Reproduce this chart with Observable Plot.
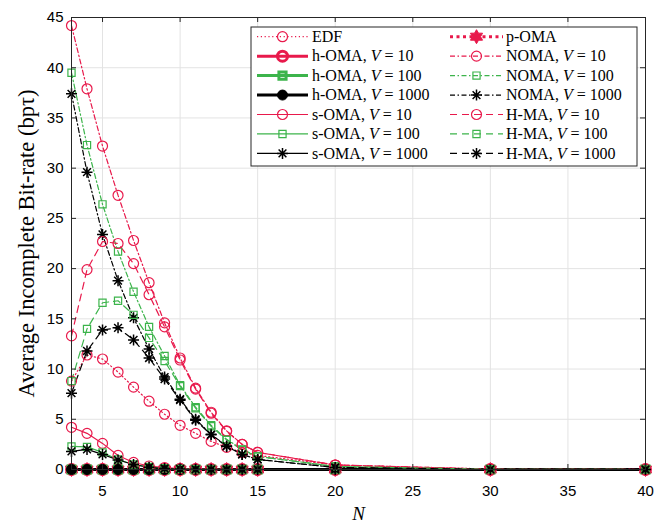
<!DOCTYPE html>
<html><head><meta charset="utf-8">
<script src="https://cdn.jsdelivr.net/npm/d3@7"></script>
<script src="https://cdn.jsdelivr.net/npm/@observablehq/plot@0.6"></script>
<style>body{margin:0;background:#fff;} #chart{width:654px;height:523px;overflow:hidden;}</style>
</head><body><div id="chart"></div>
<script>
// ---------- data ----------
const N = [3,4,5,6,7,8,9,10,11,12,13,14,15,20,30,40];
const edf      = [8.8,11.4,11.0,9.7,8.2,6.8,5.5,4.4,3.6,2.8,2.2,1.7,1.4,0.45,0.05,0];
const pOMA     = [0,0,0,0,0,0,0,0,0,0,0,0,0,0,0,0];
const hOMA10   = [0,0,0,0,0,0,0,0,0,0,0,0,0,0,0,0];
const hOMA100  = [0,0,0,0,0,0,0,0,0,0,0,0,0,0,0,0];
const hOMA1000 = [0,0,0,0,0,0,0,0,0,0,0,0,0,0,0,0];
const sOMA10   = [4.2,3.6,2.6,1.4,0.7,0.35,0.2,0.1,0.05,0.02,0.01,0,0,0,0,0];
const sOMA100  = [2.3,2.25,1.7,1.0,0.5,0.25,0.12,0.06,0.03,0.01,0,0,0,0,0,0];
const sOMA1000 = [1.8,2.0,1.5,0.95,0.5,0.22,0.1,0.05,0.02,0.01,0,0,0,0,0,0];
const noma10   = [44.2,37.9,32.2,27.3,22.8,18.6,14.6,11.1,8.1,5.7,3.85,2.5,1.7,0.45,0.03,0];
const noma100  = [39.5,32.3,26.4,21.7,17.7,14.2,11.3,8.4,6.2,4.4,3.0,2.0,1.3,0.3,0.02,0];
const noma1000 = [37.4,29.6,23.4,18.8,15.1,12.0,9.2,7.0,5.0,3.5,2.35,1.5,1.0,0.2,0.01,0];
const hma10    = [13.3,19.9,22.7,22.5,20.5,17.4,14.2,10.9,8.0,5.6,3.8,2.5,1.7,0.45,0.03,0];
const hma100   = [8.8,14.0,16.6,16.8,15.4,13.1,10.8,8.3,6.1,4.3,2.95,1.95,1.3,0.3,0.02,0];
const hma1000  = [7.6,11.8,13.9,14.1,12.9,11.1,9.0,6.9,4.9,3.45,2.3,1.5,1.0,0.2,0.01,0];
const xTicks = [5,10,15,20,25,30,35,40];
const yTicks = [0,5,10,15,20,25,30,35,40,45];
const xLabel = "N";
const yLabel = "Average Incomplete Bit-rate (bpτ)";

// ---------- styles ----------
const red = "#E8194B", green = "#3CB44B", black = "#000000";
const DOT = "1.2 2.6", DASHDOT = "5 2.5 1.5 2.5", DASH = "7 5", PDOT = "3 3.5";
const circleSym = {draw(c, s){ const r = Math.sqrt(s/Math.PI); c.moveTo(r,0); c.arc(0,0,r,0,2*Math.PI); }};
const squareSym = {draw(c, s){ const r = Math.sqrt(s/Math.PI)*0.78; c.rect(-r,-r,2*r,2*r); }};
const starSym = {draw(c, s){ const r = Math.sqrt(s/Math.PI);
  for (let i=0;i<4;i++){ const a=i*Math.PI/4; c.moveTo(r*Math.cos(a), r*Math.sin(a)); c.lineTo(-r*Math.cos(a), -r*Math.sin(a)); } }};
const hexSym = {draw(c, s){ const r = Math.sqrt(s/Math.PI), ri = r*0.58;
  for (let i=0;i<12;i++){ const a=-Math.PI/2+i*Math.PI/6, rr = i%2 ? ri : r; i ? c.lineTo(rr*Math.cos(a), rr*Math.sin(a)) : c.moveTo(rr*Math.cos(a), rr*Math.sin(a)); } c.closePath(); }};

const series = [
  {name:"EDF",   v:null, y:edf,      color:red,   lw:1.2, dash:DOT,     sym:circleSym, fill:"none", r:5,   mw:1.2},
  {name:"p-OMA", v:null, y:pOMA,     color:red,   lw:3,   dash:PDOT,    sym:hexSym,    fill:red,    r:7,   mw:1},
  {name:"h-OMA", v:10,   y:hOMA10,   color:red,   lw:3,   dash:null,    sym:circleSym, fill:"none", r:5,   mw:3},
  {name:"h-OMA", v:100,  y:hOMA100,  color:green, lw:3,   dash:null,    sym:squareSym, fill:"none", r:4.6, mw:3},
  {name:"h-OMA", v:1000, y:hOMA1000, color:black, lw:3,   dash:null,    sym:circleSym, fill:black,  r:5,   mw:1},
  {name:"s-OMA", v:10,   y:sOMA10,   color:red,   lw:1.2, dash:null,    sym:circleSym, fill:"none", r:5,   mw:1.2},
  {name:"s-OMA", v:100,  y:sOMA100,  color:green, lw:1.2, dash:null,    sym:squareSym, fill:"none", r:4.6, mw:1.2},
  {name:"s-OMA", v:1000, y:sOMA1000, color:black, lw:1.2, dash:null,    sym:starSym,   fill:"none", r:5.5, mw:1.5},
  {name:"NOMA",  v:10,   y:noma10,   color:red,   lw:1.2, dash:DASHDOT, sym:circleSym, fill:"none", r:5,   mw:1.2},
  {name:"NOMA",  v:100,  y:noma100,  color:green, lw:1.2, dash:DASHDOT, sym:squareSym, fill:"none", r:4.6, mw:1.2},
  {name:"NOMA",  v:1000, y:noma1000, color:black, lw:1.2, dash:DASHDOT, sym:starSym,   fill:"none", r:5.5, mw:1.5},
  {name:"H-MA",  v:10,   y:hma10,    color:red,   lw:1.2, dash:DASH,    sym:circleSym, fill:"none", r:5,   mw:1.2},
  {name:"H-MA",  v:100,  y:hma100,   color:green, lw:1.2, dash:DASH,    sym:squareSym, fill:"none", r:4.6, mw:1.2},
  {name:"H-MA",  v:1000, y:hma1000,  color:black, lw:1.2, dash:DASH,    sym:starSym,   fill:"none", r:5.5, mw:1.5},
];
const legendCols = [
  ["EDF|", "h-OMA|10", "h-OMA|100", "h-OMA|1000", "s-OMA|10", "s-OMA|100", "s-OMA|1000"],
  ["p-OMA|", "NOMA|10", "NOMA|100", "NOMA|1000", "H-MA|10", "H-MA|100", "H-MA|1000"]
];

// ---------- layout ----------
const W = 654, H = 523, mL = 71, mR = 9, mT = 17, mB = 54;
const pw = W - mL - mR, ph = H - mT - mB;
const serif = "'Liberation Serif', 'Times New Roman', serif";
const grid = "#e3e3e3", axisCol = "#262626";

const marks = [
  Plot.ruleX(xTicks, {stroke: grid, strokeWidth: 1}),
  Plot.ruleY(yTicks, {stroke: grid, strokeWidth: 1}),
];
for (const s of series) {
  const data = N.map((x, i) => ({x, y: s.y[i]}));
  marks.push(Plot.line(data, {x: "x", y: "y", stroke: s.color, strokeWidth: s.lw, strokeDasharray: s.dash || undefined}));
}
for (const s of series) {
  const data = N.map((x, i) => ({x, y: s.y[i]}));
  marks.push(Plot.dot(data, {x: "x", y: "y", symbol: s.sym, r: s.r, stroke: s.color, fill: s.fill, strokeWidth: s.mw}));
}
marks.push(
  Plot.frame({stroke: axisCol, strokeWidth: 1}),
  Plot.ruleX(xTicks, {stroke: axisCol, insetTop: ph - 5}),
  Plot.ruleX(xTicks, {stroke: axisCol, insetBottom: ph - 5}),
  Plot.ruleY(yTicks, {stroke: axisCol, insetRight: pw - 5}),
  Plot.ruleY(yTicks, {stroke: axisCol, insetLeft: pw - 5}),
  Plot.text([yLabel], {text: d => d, frameAnchor: "left", textAnchor: "middle", lineAnchor: "middle", rotate: -90, dx: -45, fontFamily: serif, fontSize: 22.5, fill: "#000"}),
  Plot.text([xLabel], {text: d => d, frameAnchor: "bottom", textAnchor: "middle", lineAnchor: "middle", dy: 44, fontFamily: serif, fontSize: 19, fontStyle: "italic", fill: "#000"})
);

const svg = Plot.plot({
  width: W, height: H,
  marginLeft: mL, marginRight: mR, marginTop: mT, marginBottom: mB,
  style: {fontFamily: "'Liberation Sans', Arial, sans-serif", fontSize: "15px", color: "#000", background: "#fff", overflow: "visible"},
  x: {domain: [3, 40], ticks: xTicks, tickSize: 0, tickPadding: 16, label: null},
  y: {domain: [0, 45], ticks: yTicks, tickSize: 0, tickPadding: 8, label: null},
  marks
});
document.getElementById("chart").appendChild(svg);

// ---------- legend ----------
const sel = d3.select(svg);
const lg = sel.append("g").attr("text-anchor", "start");
const box = {x: 251, y: 27, w: 386, h: 139};
lg.append("rect").attr("x", box.x).attr("y", box.y).attr("width", box.w).attr("height", box.h)
  .attr("fill", "#fff").attr("stroke", axisCol).attr("stroke-width", 1);
const colX = [{l0: 257, l1: 308, t: 312}, {l0: 450, l1: 503, t: 506}];
const rowY = i => 36.7 + i * 19.45;
legendCols.forEach((col, ci) => {
  col.forEach((key, ri) => {
    const [name, vs] = key.split("|");
    const v = vs ? +vs : null;
    const s = series.find(d => d.name === name && d.v === v);
    const y = rowY(ri), c = colX[ci];
    lg.append("line").attr("x1", c.l0).attr("x2", c.l1).attr("y1", y).attr("y2", y)
      .attr("stroke", s.color).attr("stroke-width", s.lw).attr("stroke-dasharray", s.dash);
    const sym = d3.symbol(s.sym, s.r * s.r * Math.PI);
    lg.append("path").attr("d", sym()).attr("transform", `translate(${(c.l0 + c.l1) / 2},${y})`)
      .attr("fill", s.fill).attr("stroke", s.color).attr("stroke-width", s.mw);
    const t = lg.append("text").attr("x", c.t).attr("y", y + 5.2).attr("text-anchor", "start")
      .attr("font-family", serif).attr("font-size", 16).attr("fill", "#000");
    if (v === null) t.text(name);
    else {
      t.append("tspan").text(name + ", ");
      t.append("tspan").attr("font-style", "italic").text("V");
      t.append("tspan").text(" = " + v);
    }
  });
});
</script></body></html>
